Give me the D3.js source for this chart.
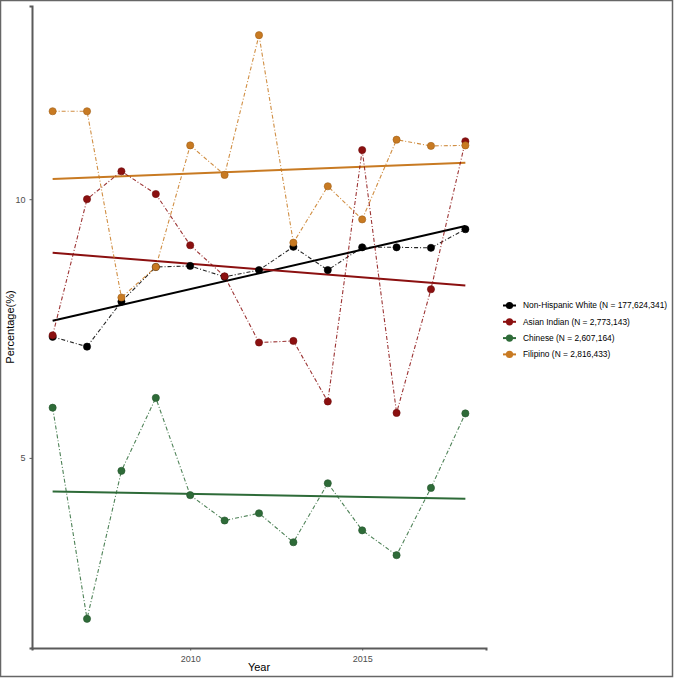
<!DOCTYPE html>
<html>
<head>
<meta charset="utf-8">
<script src="https://cdn.jsdelivr.net/npm/d3@7"></script>
<style>
  body { margin: 0; background: #fff; }
  svg { display: block; font-family: "Liberation Sans", Arial, sans-serif; }
</style>
</head>
<body>
<div id="chart"></div>
<script>
// data
const years = [2006, 2007, 2008, 2009, 2010, 2011, 2012, 2013, 2014, 2015, 2016, 2017, 2018];
const whiteVals = [7.34, 7.15, 8.02, 8.69, 8.71, 8.50, 8.63, 9.08, 8.63, 9.07, 9.07, 9.06, 9.42];
const indianVals = [7.37, 10.00, 10.54, 10.10, 9.11, 8.51, 7.23, 7.26, 6.09, 10.95, 5.87, 8.26, 11.12];
const chineseVals = [5.97, 1.89, 4.75, 6.16, 4.28, 3.79, 3.93, 3.37, 4.51, 3.60, 3.12, 4.42, 5.86];
const filipinoVals = [11.70, 11.70, 8.10, 8.69, 11.04, 10.47, 13.17, 9.16, 10.25, 9.61, 11.15, 11.03, 11.04];
const seriesNames = ["Non-Hispanic White (N = 177,624,341)", "Asian Indian (N = 2,773,143)",
  "Chinese (N = 2,607,164)", "Filipino (N = 2,816,433)"];
const seriesColors = ["#000000", "#8b1010", "#2e6b38", "#c87a22"];
const xTicks = [2010, 2015];
const yTicks = [5, 10];

const width = 674, height = 678;
const margin = { top: 6, right: 188, bottom: 30, left: 32 };

const series = [whiteVals, indianVals, chineseVals, filipinoVals].map((vals, i) => ({
  name: seriesNames[i],
  color: seriesColors[i],
  points: years.map((y, j) => ({ year: y, value: vals[j] }))
}));

const svg = d3.select("#chart").append("svg")
  .attr("width", width)
  .attr("height", height);

// outer frame
svg.append("rect")
  .attr("x", 0.5).attr("y", 0.5)
  .attr("width", width - 2).attr("height", height - 2)
  .attr("fill", "none").attr("stroke", "#666").attr("stroke-width", 1.5);

// ggplot style 5% expansion
const allVals = series.flatMap(s => s.points.map(p => p.value));
const yMin = d3.min(allVals), yMax = d3.max(allVals);
const yPad = (yMax - yMin) * 0.05;
const xPad = (d3.max(years) - d3.min(years)) * 0.05;

const x = d3.scaleLinear()
  .domain([d3.min(years) - xPad, d3.max(years) + xPad])
  .range([margin.left, width - margin.right]);
const y = d3.scaleLinear()
  .domain([yMin - yPad, yMax + yPad])
  .range([height - margin.bottom, margin.top]);

// axes
const xAxis = svg.append("g")
  .attr("transform", `translate(0,${height - margin.bottom})`)
  .call(d3.axisBottom(x).tickValues(xTicks).tickFormat(d3.format("d")).tickSizeOuter(0).tickSize(2.5));
const yAxis = svg.append("g")
  .attr("transform", `translate(${margin.left},0)`)
  .call(d3.axisLeft(y).tickValues(yTicks).tickSizeOuter(0).tickSize(2.5));

[xAxis, yAxis].forEach(a => {
  a.select(".domain").attr("stroke", "#5a5a5a").attr("stroke-width", 2);
  a.selectAll(".tick line").attr("stroke", "#5a5a5a").attr("stroke-width", 1);
  a.selectAll(".tick text").attr("fill", "#4d4d4d").attr("font-size", 9)
    .attr("font-family", "Liberation Sans, Arial, sans-serif");
});
xAxis.selectAll(".tick text").attr("dy", "0.9em");
yAxis.selectAll(".tick text").attr("dx", "-0.1em");

svg.append("text")
  .attr("x", (x.range()[0] + x.range()[1]) / 2)
  .attr("y", 671)
  .attr("text-anchor", "middle")
  .attr("font-size", 11)
  .text("Year");

svg.append("text")
  .attr("transform", `translate(14,${(y.range()[0] + y.range()[1]) / 2}) rotate(-90)`)
  .attr("text-anchor", "middle")
  .attr("font-size", 11)
  .text("Percentage(%)");

const line = d3.line().x(d => x(d.year)).y(d => y(d.value));
const plot = svg.append("g");

// linear fit lines
series.forEach(s => {
  const mx = d3.mean(s.points, d => d.year), my = d3.mean(s.points, d => d.value);
  const sxy = d3.sum(s.points, d => (d.year - mx) * (d.value - my));
  const sxx = d3.sum(s.points, d => (d.year - mx) ** 2);
  const slope = sxy / sxx;
  const ends = d3.extent(years).map(yr => ({ year: yr, value: my + slope * (yr - mx) }));
  plot.append("path")
    .datum(ends)
    .attr("d", line)
    .attr("fill", "none")
    .attr("stroke", s.color)
    .attr("stroke-width", 2);
});

// dotdash lines + points
series.forEach(s => {
  plot.append("path")
    .datum(s.points)
    .attr("d", line)
    .attr("fill", "none")
    .attr("stroke", s.color)
    .attr("stroke-opacity", 0.85)
    .attr("stroke-width", 1.1)
    .attr("stroke-dasharray", "4,2,1,2");
  plot.selectAll(null)
    .data(s.points)
    .join("circle")
    .attr("cx", d => x(d.year))
    .attr("cy", d => y(d.value))
    .attr("r", 3.6)
    .attr("fill", s.color)
    .attr("stroke", d3.color(s.color).darker(0.6))
    .attr("stroke-width", 0.6);
});

// legend
const legend = svg.append("g").attr("transform", "translate(503,305.5)");
const item = legend.selectAll("g")
  .data(series)
  .join("g")
  .attr("transform", (d, i) => `translate(0,${i * 16.3})`);
item.append("line")
  .attr("x1", 0).attr("x2", 13)
  .attr("stroke", d => d.color).attr("stroke-width", 2);
item.append("circle")
  .attr("cx", 6.5).attr("r", 3.6)
  .attr("fill", d => d.color);
item.append("text")
  .attr("x", 20)
  .attr("dy", "0.35em")
  .attr("font-size", 8.4)
  .attr("fill", "#000")
  .text(d => d.name);
</script>
</body>
</html>
